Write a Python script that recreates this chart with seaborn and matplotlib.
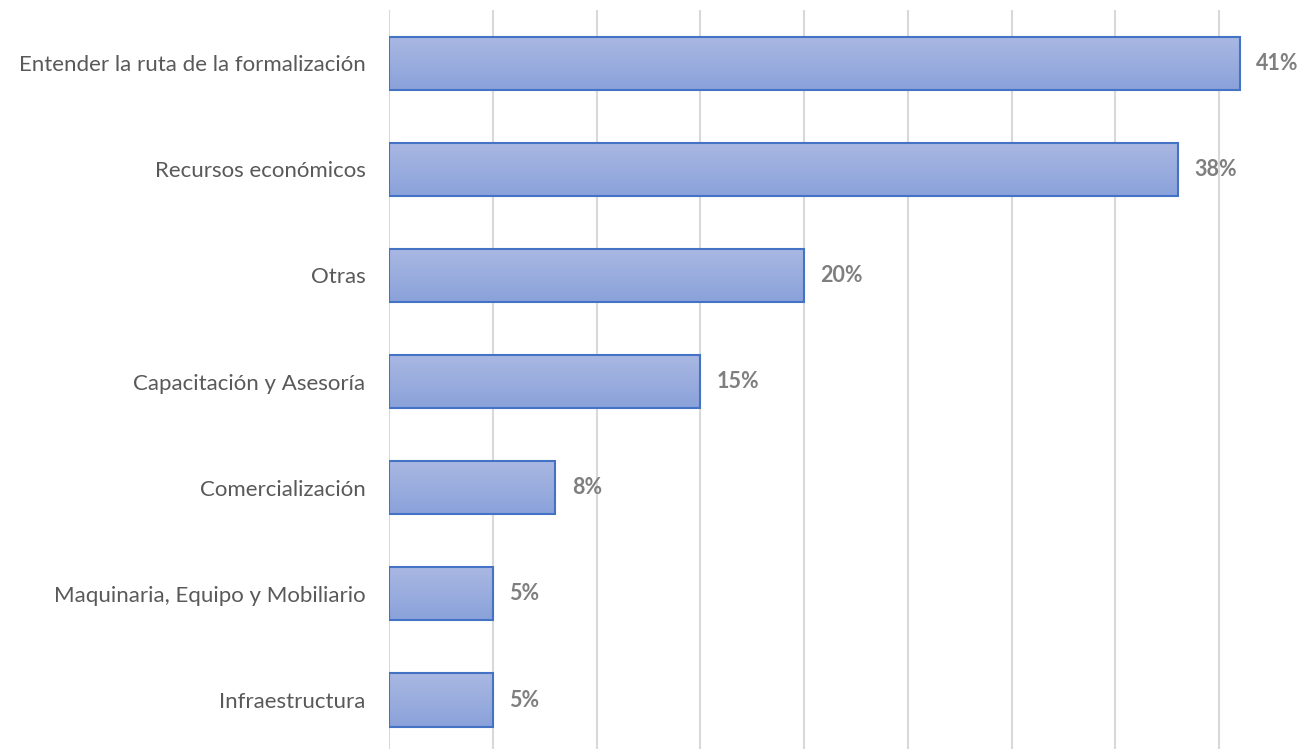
import numpy as np
import pandas as pd
import matplotlib
matplotlib.use("Agg")
import matplotlib.pyplot as plt
from matplotlib.colors import LinearSegmentedColormap
import seaborn as sns

# Data
categorias = [
    "Entender la ruta de la formalización",
    "Recursos económicos",
    "Otras",
    "Capacitación y Asesoría",
    "Comercialización",
    "Maquinaria, Equipo y Mobiliario",
    "Infraestructura",
]
porcentajes = [41, 38, 20, 15, 8, 5, 5]

df = pd.DataFrame({"categoria": categorias, "valor": porcentajes})

sns.set_style("white")
plt.rcParams["font.family"] = ["Lato", "DejaVu Sans"]

fig = plt.figure(figsize=(13.02, 7.49), dpi=100)
ax = fig.add_axes([0.2988, -0.0055, 0.7012, 0.9922])

sns.barplot(
    data=df, x="valor", y="categoria", orient="h",
    width=0.5, color="#9aaee0", edgecolor="#4472C4", linewidth=1.5, ax=ax
)

# Gradient fill inside each bar
grad = LinearSegmentedColormap.from_list("g", ["#aab8e2", "#8aa2da"])
img = np.linspace(0, 1, 100).reshape(-1, 1)
for p in ax.patches:
    x0, y0 = p.get_x(), p.get_y()
    w, h = p.get_width(), p.get_height()
    im = ax.imshow(img, cmap=grad, aspect="auto",
                   extent=(x0, x0 + w, y0 + h, y0), zorder=p.get_zorder() - 0.1,
                   origin="upper")
    im.set_clip_path(p)
    p.set_facecolor("none")
    p.set_zorder(3)

ax.set_xlim(0, 44)
ax.set_ylim(6.5, -0.5)
ax.set_xticks(np.arange(0, 45, 5))
ax.xaxis.grid(True, color="#d9d9d9", linewidth=1.5)
ax.set_axisbelow(True)
ax.tick_params(axis="x", labelbottom=False, length=0)
ax.tick_params(axis="y", length=0, pad=17, labelsize=16, labelcolor="#595959")
ax.set_xlabel("")
ax.set_ylabel("")
for s in ax.spines.values():
    s.set_visible(False)

# Value labels
for i, v in enumerate(porcentajes):
    ax.text(v + 0.8, i, f"{v}%", va="center", ha="left",
            fontsize=15.5, fontweight="bold", color="#7f7f7f")

fig.savefig("out.png", dpi=100)
